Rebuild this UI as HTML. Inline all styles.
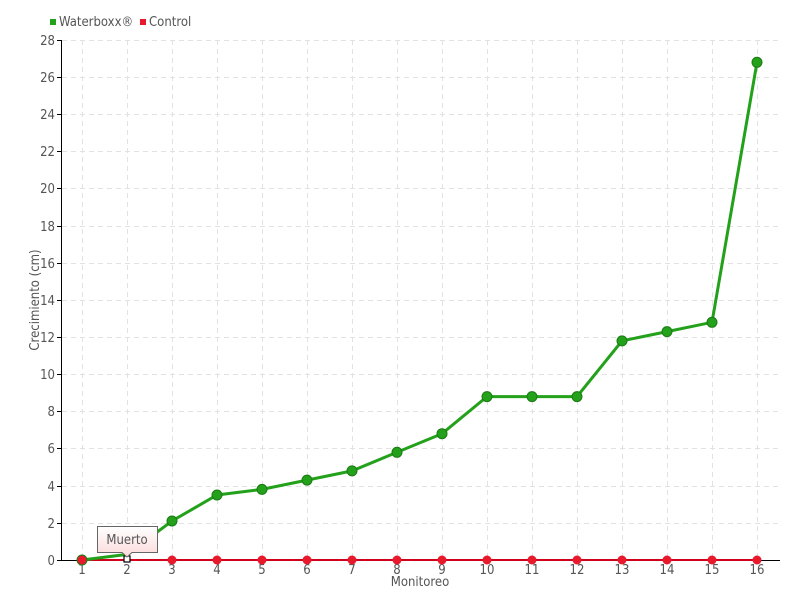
<!DOCTYPE html>
<html><head><meta charset="utf-8"><style>
body{margin:0;background:#fff;}
svg text{font-family:"DejaVu Sans Condensed","Liberation Sans",sans-serif;fill:#555;}
</style></head><body>
<svg width="800" height="600" xmlns="http://www.w3.org/2000/svg">
<g stroke="#e2e2e2" stroke-dasharray="5,4" stroke-width="1">
<line x1="62" x2="780" y1="40.5" y2="40.5"/><line x1="62" x2="780" y1="77.5" y2="77.5"/><line x1="62" x2="780" y1="114.5" y2="114.5"/><line x1="62" x2="780" y1="151.5" y2="151.5"/><line x1="62" x2="780" y1="188.5" y2="188.5"/><line x1="62" x2="780" y1="226.5" y2="226.5"/><line x1="62" x2="780" y1="263.5" y2="263.5"/><line x1="62" x2="780" y1="300.5" y2="300.5"/><line x1="62" x2="780" y1="337.5" y2="337.5"/><line x1="62" x2="780" y1="374.5" y2="374.5"/><line x1="62" x2="780" y1="411.5" y2="411.5"/><line x1="62" x2="780" y1="448.5" y2="448.5"/><line x1="62" x2="780" y1="486.5" y2="486.5"/><line x1="62" x2="780" y1="523.5" y2="523.5"/>
<line x1="82.5" x2="82.5" y1="40" y2="560"/><line x1="127.5" x2="127.5" y1="40" y2="560"/><line x1="172.5" x2="172.5" y1="40" y2="560"/><line x1="217.5" x2="217.5" y1="40" y2="560"/><line x1="262.5" x2="262.5" y1="40" y2="560"/><line x1="307.5" x2="307.5" y1="40" y2="560"/><line x1="352.5" x2="352.5" y1="40" y2="560"/><line x1="397.5" x2="397.5" y1="40" y2="560"/><line x1="442.5" x2="442.5" y1="40" y2="560"/><line x1="487.5" x2="487.5" y1="40" y2="560"/><line x1="532.5" x2="532.5" y1="40" y2="560"/><line x1="577.5" x2="577.5" y1="40" y2="560"/><line x1="622.5" x2="622.5" y1="40" y2="560"/><line x1="667.5" x2="667.5" y1="40" y2="560"/><line x1="712.5" x2="712.5" y1="40" y2="560"/><line x1="757.5" x2="757.5" y1="40" y2="560"/>
</g>
<g stroke="#000" stroke-width="1">
<line x1="61.5" x2="61.5" y1="40" y2="560"/>
<line x1="61" x2="780" y1="560.5" y2="560.5"/>
</g>
<g stroke="#000" stroke-width="1">
<line x1="57" x2="61" y1="40.5" y2="40.5"/><line x1="57" x2="61" y1="77.5" y2="77.5"/><line x1="57" x2="61" y1="114.5" y2="114.5"/><line x1="57" x2="61" y1="151.5" y2="151.5"/><line x1="57" x2="61" y1="188.5" y2="188.5"/><line x1="57" x2="61" y1="226.5" y2="226.5"/><line x1="57" x2="61" y1="263.5" y2="263.5"/><line x1="57" x2="61" y1="300.5" y2="300.5"/><line x1="57" x2="61" y1="337.5" y2="337.5"/><line x1="57" x2="61" y1="374.5" y2="374.5"/><line x1="57" x2="61" y1="411.5" y2="411.5"/><line x1="57" x2="61" y1="448.5" y2="448.5"/><line x1="57" x2="61" y1="486.5" y2="486.5"/><line x1="57" x2="61" y1="523.5" y2="523.5"/><line x1="57" x2="61" y1="560.5" y2="560.5"/>
</g>
<g font-size="13" text-anchor="end">
<text x="55" y="45">28</text><text x="55" y="82">26</text><text x="55" y="119">24</text><text x="55" y="156">22</text><text x="55" y="193">20</text><text x="55" y="231">18</text><text x="55" y="268">16</text><text x="55" y="305">14</text><text x="55" y="342">12</text><text x="55" y="379">10</text><text x="55" y="416">8</text><text x="55" y="453">6</text><text x="55" y="491">4</text><text x="55" y="528">2</text><text x="55" y="565">0</text>
</g>
<g font-size="13" text-anchor="middle">
<text x="82" y="574">1</text><text x="127" y="574">2</text><text x="172" y="574">3</text><text x="217" y="574">4</text><text x="262" y="574">5</text><text x="307" y="574">6</text><text x="352" y="574">7</text><text x="397" y="574">8</text><text x="442" y="574">9</text><text x="487" y="574">10</text><text x="532" y="574">11</text><text x="577" y="574">12</text><text x="622" y="574">13</text><text x="667" y="574">14</text><text x="712" y="574">15</text><text x="757" y="574">16</text>
<text x="420" y="586" font-size="13">Monitoreo</text>
<text transform="translate(39,300) rotate(-90)" font-size="13">Crecimiento (cm)</text>
</g>
<line x1="82" x2="757" y1="560" y2="560" stroke="#d0021b" stroke-width="2"/>
<polyline fill="none" stroke="#23a11b" stroke-width="3" points="82,560 127,554.4 172,521 217,495 262,489.4 307,480.1 352,470.9 397,452.3 442,433.7 487,396.6 532,396.6 577,396.6 622,340.9 667,331.6 712,322.3 757,62.3"/>
<g fill="#23a11b" stroke="#1a7a14" stroke-width="1">
<circle cx="82" cy="560" r="5"/><circle cx="172" cy="521" r="5"/><circle cx="217" cy="495" r="5"/><circle cx="262" cy="489.4" r="5"/><circle cx="307" cy="480.1" r="5"/><circle cx="352" cy="470.9" r="5"/><circle cx="397" cy="452.3" r="5"/><circle cx="442" cy="433.7" r="5"/><circle cx="487" cy="396.6" r="5"/><circle cx="532" cy="396.6" r="5"/><circle cx="577" cy="396.6" r="5"/><circle cx="622" cy="340.9" r="5"/><circle cx="667" cy="331.6" r="5"/><circle cx="712" cy="322.3" r="5"/><circle cx="757" cy="62.3" r="5"/>
</g>
<g fill="#e8192c">
<circle cx="82" cy="560" r="4.5"/><circle cx="172" cy="560" r="4.5"/><circle cx="217" cy="560" r="4.5"/><circle cx="262" cy="560" r="4.5"/><circle cx="307" cy="560" r="4.5"/><circle cx="352" cy="560" r="4.5"/><circle cx="397" cy="560" r="4.5"/><circle cx="442" cy="560" r="4.5"/><circle cx="487" cy="560" r="4.5"/><circle cx="532" cy="560" r="4.5"/><circle cx="577" cy="560" r="4.5"/><circle cx="622" cy="560" r="4.5"/><circle cx="667" cy="560" r="4.5"/><circle cx="712" cy="560" r="4.5"/><circle cx="757" cy="560" r="4.5"/>
</g>
<rect x="124" y="556" width="6" height="6" fill="#fff" stroke="#000" stroke-width="1.2"/>
<defs><linearGradient id="tg" x1="0" y1="0" x2="0" y2="1"><stop offset="0" stop-color="#fff"/><stop offset="1" stop-color="#fbd9da"/></linearGradient></defs>
<path d="M97.5,526.5 H157.5 V552.5 H132 L127,557 L122,552.5 H97.5 Z" fill="url(#tg)" stroke="#666" stroke-width="1"/>
<text x="127" y="544" font-size="13" text-anchor="middle" fill="#444">Muerto</text>
<rect x="50" y="19" width="6" height="6" fill="#23a11b"/>
<text x="59" y="26" font-size="13">Waterboxx®</text>
<rect x="140" y="19" width="6" height="6" fill="#e8192c"/>
<text x="149" y="26" font-size="13">Control</text>
</svg>
</body></html>
